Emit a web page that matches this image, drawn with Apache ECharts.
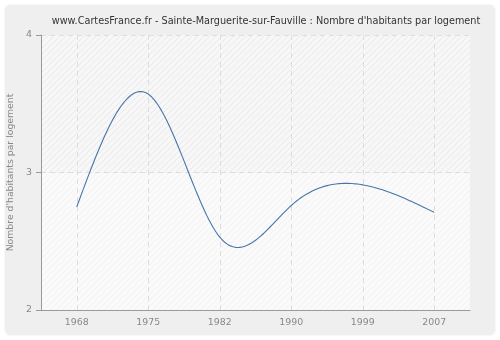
<!DOCTYPE html>
<html>
<head>
<meta charset="utf-8">
<script src="https://cdn.jsdelivr.net/npm/echarts@6/dist/echarts.min.js"></script>
<style>
  html, body { margin: 0; padding: 0; background: #ffffff; }
  #chart { width: 500px; height: 340px; }
</style>
</head>
<body>
<div id="chart"></div>
<script>
// Census years and average number of inhabitants per dwelling
const years = ['1968', '1975', '1982', '1990', '1999', '2007'];
const habitantsParLogement = [2.75, 3.57, 2.53, 2.76, 2.91, 2.71];
const yTicks = [2, 3, 4];

const titleText = "www.CartesFrance.fr - Sainte-Marguerite-sur-Fauville : Nombre d'habitants par logement";
const yAxisName = "Nombre d'habitants par logement";

// Diagonal hatch tile used for the plot background bands
function hatch(bg, line) {
  const c = document.createElement('canvas');
  c.width = 6; c.height = 6;
  const g = c.getContext('2d');
  g.fillStyle = bg;
  g.fillRect(0, 0, 6, 6);
  g.strokeStyle = line;
  g.lineWidth = 1;
  g.beginPath();
  g.moveTo(-1, 7); g.lineTo(7, -1);
  g.moveTo(-1, 1); g.lineTo(1, -1);
  g.moveTo(5, 7); g.lineTo(7, 5);
  g.stroke();
  return { image: c, repeat: 'repeat' };
}

// Natural cubic spline through points with strictly increasing x
function naturalSpline(pts, stepsPerSeg) {
  const n = pts.length;
  const h = [];
  for (let i = 0; i < n - 1; i++) h.push(pts[i + 1][0] - pts[i][0]);
  const M = new Array(n).fill(0);
  if (n > 2) {
    const m = n - 2;
    const diag = [], up = [], low = [], rhs = [];
    for (let i = 1; i < n - 1; i++) {
      low.push(h[i - 1]);
      diag.push(2 * (h[i - 1] + h[i]));
      up.push(h[i]);
      rhs.push(6 * ((pts[i + 1][1] - pts[i][1]) / h[i] - (pts[i][1] - pts[i - 1][1]) / h[i - 1]));
    }
    for (let i = 1; i < m; i++) {
      const w = low[i] / diag[i - 1];
      diag[i] -= w * up[i - 1];
      rhs[i] -= w * rhs[i - 1];
    }
    const sol = new Array(m);
    sol[m - 1] = rhs[m - 1] / diag[m - 1];
    for (let i = m - 2; i >= 0; i--) sol[i] = (rhs[i] - up[i] * sol[i + 1]) / diag[i];
    for (let i = 0; i < m; i++) M[i + 1] = sol[i];
  }
  const out = [pts[0].slice()];
  for (let i = 0; i < n - 1; i++) {
    const x0 = pts[i][0], y0 = pts[i][1], y1 = pts[i + 1][1], hi = h[i];
    for (let s = 1; s <= stepsPerSeg; s++) {
      const t = s / stepsPerSeg;
      const A = 1 - t, B = t;
      const y = A * y0 + B * y1 +
        ((A * A * A - A) * M[i] + (B * B * B - B) * M[i + 1]) * hi * hi / 6;
      out.push([x0 + t * hi, y]);
    }
  }
  return out;
}

const chart = echarts.init(document.getElementById('chart'), null, { renderer: 'canvas' });

const axisGrey = '#9a9a9a';
const labelGrey = '#888888';
const gridDash = { stroke: '#dddddd', lineWidth: 1, lineDash: [5, 4] };

chart.setOption({
  animation: false,
  backgroundColor: '#ffffff',
  graphic: [
    {
      type: 'rect', z: -9, silent: true,
      shape: { x: 4.5, y: 4.5, width: 491, height: 331, r: 6 },
      style: { fill: '#efefef', stroke: '#f8f8f8', lineWidth: 1 }
    }
  ],
  title: {
    text: titleText,
    left: 261, top: 11, textAlign: 'center',
    textStyle: { fontFamily: 'DejaVu Sans', fontSize: 9.7, fontWeight: 'normal', color: '#333333' }
  },
  grid: { left: 41, right: 30, top: 35, bottom: 30, containLabel: false, outerBoundsMode: 'none' },
  xAxis: {
    type: 'category',
    data: years,
    boundaryGap: true,
    axisLine: { lineStyle: { color: axisGrey, width: 1 } },
    axisTick: { alignWithLabel: true, length: 5, lineStyle: { color: axisGrey } },
    axisLabel: { color: labelGrey, fontFamily: 'DejaVu Sans', fontSize: 9.4, margin: 8 },
    splitLine: { show: false }
  },
  yAxis: {
    type: 'value',
    min: yTicks[0], max: yTicks[yTicks.length - 1], interval: 1,
    name: yAxisName,
    nameLocation: 'middle', nameGap: 23,
    nameTextStyle: { color: labelGrey, fontFamily: 'DejaVu Sans', fontSize: 9.3 },
    axisLine: { show: true, lineStyle: { color: axisGrey, width: 1 } },
    axisTick: { show: true, length: 5, lineStyle: { color: axisGrey } },
    axisLabel: { color: labelGrey, fontFamily: 'DejaVu Sans', fontSize: 9.4, margin: 9 },
    splitLine: { show: true, lineStyle: { color: '#dddddd', type: [5, 4] } },
    splitArea: {
      show: true,
      areaStyle: { color: [hatch('#fafafa', '#f2f2f2'), hatch('#f7f7f7', '#e9e9e9')] }
    }
  },
  series: [
    {
      // vertical dashed guides at each census year
      type: 'custom',
      coordinateSystem: 'cartesian2d',
      data: years.map((y, i) => [i, yTicks[0]]),
      encode: { x: 0, y: 1 },
      z: 1,
      silent: true,
      renderItem: function (params, api) {
        const i = api.value(0);
        const p0 = api.coord([i, yTicks[0]]);
        const p1 = api.coord([i, yTicks[yTicks.length - 1]]);
        return {
          type: 'line',
          shape: { x1: Math.round(p0[0]) + 0.5, y1: p0[1], x2: Math.round(p1[0]) + 0.5, y2: p1[1] },
          style: gridDash
        };
      }
    },
    {
      type: 'custom',
      coordinateSystem: 'cartesian2d',
      data: habitantsParLogement.map((v, i) => [i, v]),
      encode: { x: 0, y: 1 },
      z: 5,
      renderItem: function (params, api) {
        if (params.dataIndex !== 0) return null;
        const nodes = habitantsParLogement.map((v, i) => api.coord([i, v]));
        const pts = naturalSpline(nodes, 40);
        return {
          type: 'polyline',
          shape: { points: pts },
          style: { stroke: '#4775aa', lineWidth: 1.1, fill: null }
        };
      }
    }
  ]
});
</script>
</body>
</html>
